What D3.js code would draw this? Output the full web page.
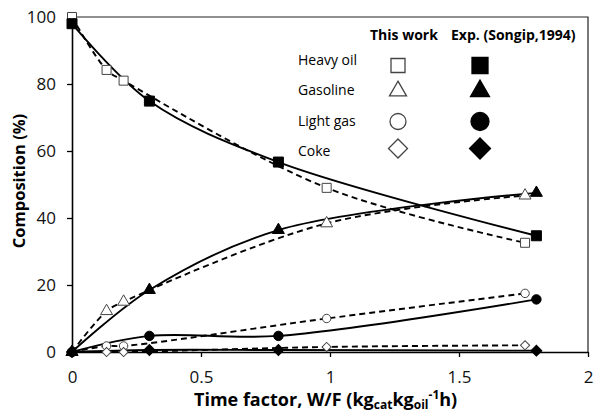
<!DOCTYPE html>
<html>
<head>
<meta charset="utf-8">
<script src="https://cdn.jsdelivr.net/npm/d3@7"></script>
<style>
  body { margin: 0; background: #fff; }
  svg { font-family: "Open Sans", sans-serif; }
</style>
</head>
<body>
<svg id="chart" width="594" height="412"></svg>
<script>
// model results ("This work") - dashed lines, open markers
const modelX = [0, 0.134, 0.2, 0.987, 1.756];
const modelHeavy = [100, 84.2, 81, 49, 32.6];
const modelGasoline = [0, 12.2, 15, 38.4, 46.7];
const modelLightGas = [0, 1.8, 1.8, 10, 17.5];
const modelCoke = [0, 0, 0, 1.5, 2];

// experimental (Songip, 1994) - solid lines, filled markers
const expX = [0, 0.3, 0.8, 1.8];
const expHeavy = [98, 74.9, 56.7, 34.7];
const expGasoline = [0, 18.5, 36.4, 47.5];
const expLightGas = [0, 4.8, 4.8, 15.7];
const expCoke = [0, 0.6, 0.6, 0.4];

const lumps = ['Heavy oil', 'Gasoline', 'Light gas', 'Coke'];
const xTicks = [0, 0.5, 1, 1.5, 2];
const yTicks = [0, 20, 40, 60, 80, 100];

const margin = {left: 72, right: 6, top: 17, bottom: 60};
const W = 594, H = 412;
const svg = d3.select('#chart');

const x = d3.scaleLinear().domain([0, 2]).range([margin.left, W - margin.right]);
const y = d3.scaleLinear().domain([0, 100]).range([H - margin.bottom, margin.top]);

// symbol type, rotation, areas: [plot open, plot filled, legend open, legend filled]
const symbolFor = {
    'Heavy oil': {type: d3.symbolSquare, rot: 0, area: [81, 100, 196, 256]},
    'Gasoline': {type: d3.symbolTriangle, rot: 0, area: [62, 62, 125, 156]},
    'Light gas': {type: d3.symbolCircle, rot: 0, area: [56, 70, 201, 254]},
    'Coke': {type: d3.symbolSquare, rot: 45, area: [42, 60, 180, 220]}
};

// frame (top + right)
svg.append('path')
    .attr('d', `M${x(0)},${y(100)}H${x(2)}V${y(0)}`)
    .attr('fill', 'none').attr('stroke', '#222').attr('stroke-width', 1.2);

const xAxis = d3.axisBottom(x).tickValues(xTicks).tickFormat(d3.format('')).tickSize(5).tickSizeOuter(0).tickPadding(14);
const yAxis = d3.axisLeft(y).tickValues(yTicks).tickSize(5).tickSizeOuter(0).tickPadding(11);

const gx = svg.append('g').attr('transform', `translate(0,${y(0)})`).call(xAxis);
const gy = svg.append('g').attr('transform', `translate(${x(0)},0)`).call(yAxis);
[gx, gy].forEach(g => {
    g.selectAll('.domain').attr('stroke-width', 1.6);
    g.selectAll('.tick line').attr('stroke-width', 1.3);
    g.selectAll('.tick text').attr('font-size', 17).attr('font-family', '"Open Sans", sans-serif').attr('fill', '#111');
});

const line = d3.line().curve(d3.curveCatmullRom.alpha(0.5));

const series = [
    {name: 'Heavy oil', mx: modelX, my: modelHeavy, ex: expX, ey: expHeavy},
    {name: 'Gasoline', mx: modelX, my: modelGasoline, ex: expX, ey: expGasoline},
    {name: 'Light gas', mx: modelX, my: modelLightGas, ex: expX, ey: expLightGas},
    {name: 'Coke', mx: modelX, my: modelCoke, ex: expX, ey: expCoke}
];

const plot = svg.append('g');
series.forEach(s => {
    plot.append('path')
        .attr('d', line(s.mx.map((v, i) => [x(v), y(s.my[i])])))
        .attr('fill', 'none').attr('stroke', '#000').attr('stroke-width', 1.9)
        .attr('stroke-dasharray', '6,4');
    plot.append('path')
        .attr('d', line(s.ex.map((v, i) => [x(v), y(s.ey[i])])))
        .attr('fill', 'none').attr('stroke', '#000').attr('stroke-width', 1.9);
});

const marker = (g, name, cx, cy, which) => {
    const sym = symbolFor[name];
    const filled = which % 2 == 1;
    g.append('path')
        .attr('d', d3.symbol().type(sym.type).size(sym.area[which])())
        .attr('transform', `translate(${cx},${cy}) rotate(${sym.rot})`)
        .attr('fill', filled ? '#000' : '#fff')
        .attr('stroke', filled ? '#000' : '#444')
        .attr('stroke-width', which < 2 ? 1 : 1.3);
};

series.forEach(s => {
    s.mx.forEach((v, i) => marker(plot, s.name, x(v), y(s.my[i]), 0));
});
series.forEach(s => {
    s.ex.forEach((v, i) => marker(plot, s.name, x(v), y(s.ey[i]), 1));
});

// legend
const legend = svg.append('g');
legend.append('text').attr('x', 370).attr('y', 40).attr('font-size', 14).attr('font-weight', 'bold').text('This work');
legend.append('text').attr('x', 451).attr('y', 40).attr('font-size', 14).attr('font-weight', 'bold').text('Exp. (Songip,1994)');
const rowBase = [67, 97, 128, 158];
const rowMark = [65.5, 91, 121.5, 148.5];
lumps.forEach((name, i) => {
    legend.append('text').attr('x', 298).attr('y', rowBase[i] - 2).attr('font-size', 14).text(name);
    marker(legend, name, 398, rowMark[i], 2);
    marker(legend, name, 480, rowMark[i], 3);
});

// axis titles
svg.append('text')
    .attr('transform', `translate(25,181) rotate(-90)`)
    .attr('text-anchor', 'middle').attr('font-size', 16.5).attr('font-weight', 'bold')
    .text('Composition (%)');

const xt = svg.append('text').attr('x', 194).attr('y', 406).attr('font-size', 18).attr('font-weight', 'bold');
xt.append('tspan').text('Time factor, W/F (kg');
xt.append('tspan').attr('font-size', 12).attr('dy', 3).text('cat');
xt.append('tspan').attr('dy', -3).text('kg');
xt.append('tspan').attr('font-size', 12).attr('dy', 3).text('oil');
xt.append('tspan').attr('font-size', 12).attr('dy', -10).text('-1');
xt.append('tspan').attr('dy', 7).text('h)');
</script>
</body>
</html>
